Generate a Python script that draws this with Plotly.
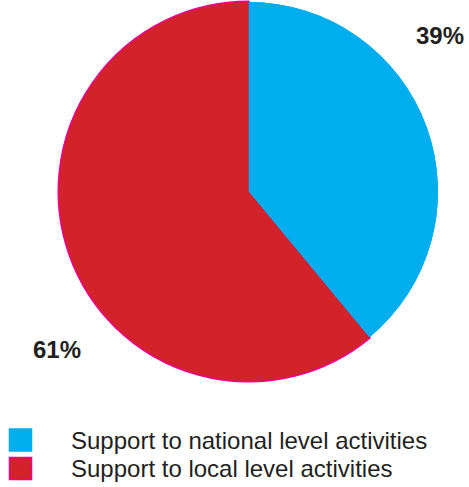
import plotly.graph_objects as go

labels = ["Support to national level activities", "Support to local level activities"]
values = [39, 61]
colors = ["#00AEEF", "#D2232A"]
border_colors = ["#00AEEF", "#EC008C"]
pct_text = [f"{v}%" for v in values]

W, H = 469, 487
cx, cy, r = 248.5, 191.5, 189.5
dom_x = [(cx - r) / W, (cx + r) / W]
dom_y = [(H - cy - r) / H, (H - cy + r) / H]

fig = go.Figure()
# bottom pie: provides the outer border on the red slice
fig.add_trace(go.Pie(
    labels=labels, values=values, sort=False, direction="clockwise", rotation=0,
    marker=dict(colors=colors, line=dict(color=border_colors, width=[0, 3])),
    textinfo="none", hoverinfo="skip", showlegend=False,
    domain=dict(x=dom_x, y=dom_y),
))
# top pie: covers radial strokes
fig.add_trace(go.Pie(
    labels=labels, values=values, sort=False, direction="clockwise", rotation=0,
    marker=dict(colors=colors, line=dict(width=0)),
    textinfo="none", showlegend=False,
    domain=dict(x=dom_x, y=dom_y),
))

font_lbl = dict(family="Liberation Sans, Arial, sans-serif", size=24, color="#231F20")
# percentage labels
label_pos = [(440, 35), (57, 349)]
for t, (px, py) in zip(pct_text, label_pos):
    fig.add_annotation(x=px / W, y=1 - py / H, xref="paper", yref="paper",
                       text=f"<b>{t}</b>", showarrow=False, font=font_lbl,
                       xanchor="center", yanchor="middle")

# manual legend
leg_rows = [440, 468.5]
for lab, col, bcol, yc in zip(labels, colors, border_colors, leg_rows):
    fig.add_shape(type="rect", xref="paper", yref="paper",
                  x0=9.5 / W, x1=31.5 / W, y0=1 - (yc + 11) / H, y1=1 - (yc - 11) / H,
                  fillcolor=col, line=dict(color=bcol, width=1.5))
    fig.add_annotation(x=69 / W, y=1 - yc / H, xref="paper", yref="paper",
                       text=lab, showarrow=False, xanchor="left", yanchor="middle",
                       font=dict(family="Liberation Sans, Arial, sans-serif", size=24, color="#231F20"))

fig.update_layout(
    width=W, height=H, margin=dict(l=0, r=0, t=0, b=0),
    paper_bgcolor="white", plot_bgcolor="white", showlegend=False,
)
fig.write_html("out.html")
